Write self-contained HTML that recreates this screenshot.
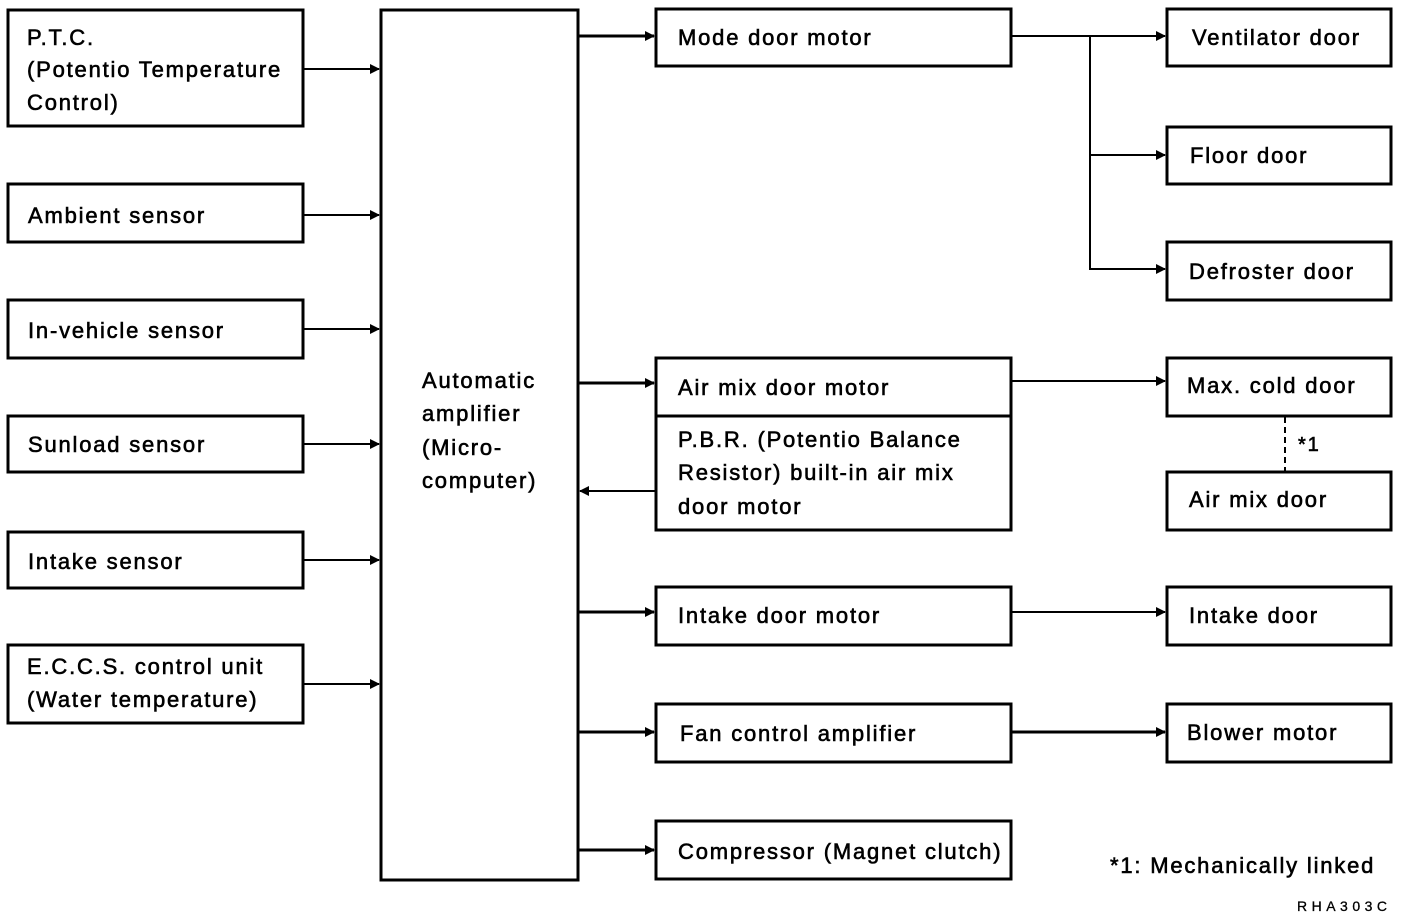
<!DOCTYPE html>
<html><head><meta charset="utf-8"><style>
html,body{margin:0;padding:0;background:#fff;}
svg{display:block;}
text{font-family:"Liberation Sans",sans-serif;font-size:22px;fill:#000;stroke:#000;stroke-width:0.6px;letter-spacing:1.8px;}
</style></head><body>
<svg width="1408" height="916" viewBox="0 0 1408 916" xmlns="http://www.w3.org/2000/svg">
<defs><marker id="a" markerWidth="10" markerHeight="10" refX="9" refY="5" orient="auto" markerUnits="userSpaceOnUse"><path d="M0,0 L10,5 L0,10 z" fill="#000"/></marker></defs>
<g fill="none" stroke="#000" stroke-width="3">
<rect x="8" y="10" width="295" height="116"/>
<rect x="8" y="184" width="295" height="58"/>
<rect x="8" y="300" width="295" height="58"/>
<rect x="8" y="416" width="295" height="56"/>
<rect x="8" y="532" width="295" height="56"/>
<rect x="8" y="645" width="295" height="78"/>
<rect x="381" y="10" width="197" height="870"/>
<rect x="656" y="9" width="355" height="57"/>
<rect x="656" y="358" width="355" height="172"/>
<line x1="656" y1="416" x2="1011" y2="416"/>
<rect x="656" y="587" width="355" height="58"/>
<rect x="656" y="704" width="355" height="58"/>
<rect x="656" y="821" width="355" height="58"/>
<rect x="1167" y="9" width="224" height="57"/>
<rect x="1167" y="127" width="224" height="57"/>
<rect x="1167" y="242" width="224" height="58"/>
<rect x="1167" y="358" width="224" height="58"/>
<rect x="1167" y="472" width="224" height="58"/>
<rect x="1167" y="587" width="224" height="58"/>
<rect x="1167" y="704" width="224" height="58"/>
</g>
<g stroke="#000" stroke-width="2" fill="none" marker-end="url(#a)">
<line x1="303" y1="69" x2="379" y2="69"/>
<line x1="303" y1="215" x2="379" y2="215"/>
<line x1="303" y1="329" x2="379" y2="329"/>
<line x1="303" y1="444" x2="379" y2="444"/>
<line x1="303" y1="560" x2="379" y2="560"/>
<line x1="303" y1="684" x2="379" y2="684"/>
<line x1="578" y1="36" x2="654" y2="36" stroke-width="3"/>
<line x1="578" y1="383" x2="654" y2="383" stroke-width="3"/>
<line x1="578" y1="612" x2="654" y2="612" stroke-width="3"/>
<line x1="578" y1="732" x2="654" y2="732" stroke-width="3"/>
<line x1="578" y1="850" x2="654" y2="850" stroke-width="3"/>
<line x1="656" y1="491" x2="580" y2="491"/>
<line x1="1011" y1="36" x2="1165" y2="36"/>
<polyline points="1090,36 1090,155 1165,155"/>
<polyline points="1090,155 1090,269 1165,269"/>
<line x1="1011" y1="381" x2="1165" y2="381"/>
<line x1="1011" y1="612" x2="1165" y2="612"/>
<line x1="1011" y1="732" x2="1165" y2="732" stroke-width="3"/>
</g>
<line x1="1285" y1="417" x2="1285" y2="471" stroke="#000" stroke-width="2" stroke-dasharray="6,4"/>
<text x="27" y="45">P.T.C.</text>
<text x="27" y="77">(Potentio Temperature</text>
<text x="27" y="110">Control)</text>
<text x="28" y="223">Ambient sensor</text>
<text x="28" y="338">In-vehicle sensor</text>
<text x="28" y="452">Sunload sensor</text>
<text x="28" y="569">Intake sensor</text>
<text x="27" y="674">E.C.C.S. control unit</text>
<text x="27" y="707">(Water temperature)</text>
<text x="422" y="388">Automatic</text>
<text x="422" y="421">amplifier</text>
<text x="422" y="455">(Micro-</text>
<text x="422" y="488">computer)</text>
<text x="678" y="45">Mode door motor</text>
<text x="678" y="395">Air mix door motor</text>
<text x="678" y="447">P.B.R. (Potentio Balance</text>
<text x="678" y="480">Resistor) built-in air mix</text>
<text x="678" y="514">door motor</text>
<text x="678" y="623">Intake door motor</text>
<text x="680" y="741">Fan control amplifier</text>
<text x="678" y="859">Compressor (Magnet clutch)</text>
<text x="1192" y="45">Ventilator door</text>
<text x="1190" y="163">Floor door</text>
<text x="1189" y="279">Defroster door</text>
<text x="1187" y="393">Max. cold door</text>
<text x="1189" y="507">Air mix door</text>
<text x="1189" y="623">Intake door</text>
<text x="1187" y="740">Blower motor</text>
<text x="1298" y="451" style="font-size:20px">*1</text>
<text x="1110" y="873">*1:  Mechanically linked</text>
<text x="1297" y="911" style="font-size:14px;stroke-width:0.3px;letter-spacing:4.5px">RHA303C</text>
</svg>
</body></html>
